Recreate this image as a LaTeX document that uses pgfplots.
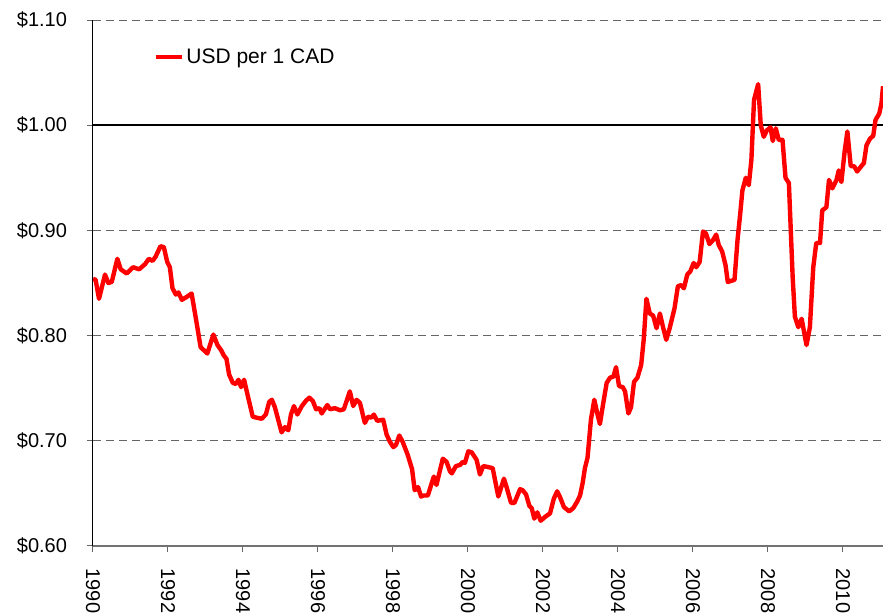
\documentclass[border=0pt]{standalone}
\usepackage{fontspec}
\setmainfont{Liberation Sans}
\usepackage{pgfplots}
\pgfplotsset{compat=1.18}

% monthly USD per 1 CAD
\pgfplotstableread{
year value
1990.00 0.854
1990.07 0.853
1990.16 0.835
1990.32 0.858
1990.41 0.850
1990.50 0.851
1990.65 0.873
1990.74 0.863
1990.90 0.859
1991.07 0.865
1991.23 0.863
1991.39 0.868
1991.49 0.873
1991.59 0.871
1991.67 0.875
1991.80 0.885
1991.89 0.884
1991.98 0.870
1992.05 0.865
1992.12 0.845
1992.21 0.839
1992.28 0.841
1992.37 0.834
1992.51 0.837
1992.63 0.840
1992.75 0.815
1992.87 0.789
1993.05 0.783
1993.21 0.801
1993.32 0.791
1993.42 0.786
1993.49 0.781
1993.56 0.778
1993.63 0.763
1993.73 0.755
1993.81 0.754
1993.88 0.758
1993.95 0.751
1994.03 0.758
1994.12 0.744
1994.26 0.723
1994.36 0.722
1994.50 0.721
1994.61 0.725
1994.70 0.737
1994.77 0.739
1994.85 0.732
1994.94 0.720
1995.03 0.708
1995.12 0.713
1995.21 0.710
1995.28 0.725
1995.36 0.733
1995.45 0.725
1995.57 0.733
1995.68 0.738
1995.77 0.741
1995.86 0.738
1995.95 0.730
1996.04 0.731
1996.10 0.726
1996.25 0.734
1996.32 0.730
1996.45 0.731
1996.59 0.729
1996.69 0.730
1996.85 0.747
1996.94 0.733
1997.03 0.739
1997.12 0.736
1997.25 0.717
1997.34 0.723
1997.43 0.722
1997.49 0.725
1997.58 0.719
1997.74 0.720
1997.83 0.706
1997.92 0.699
1998.01 0.694
1998.08 0.696
1998.17 0.705
1998.26 0.699
1998.39 0.687
1998.51 0.673
1998.58 0.653
1998.67 0.656
1998.75 0.647
1998.82 0.648
1998.93 0.648
1999.09 0.666
1999.16 0.658
1999.33 0.683
1999.43 0.680
1999.52 0.671
1999.57 0.669
1999.68 0.676
1999.79 0.677
1999.86 0.680
1999.92 0.679
2000.01 0.690
2000.10 0.689
2000.23 0.682
2000.32 0.668
2000.41 0.676
2000.54 0.675
2000.66 0.674
2000.81 0.647
2000.96 0.664
2001.03 0.656
2001.15 0.641
2001.24 0.641
2001.39 0.654
2001.46 0.653
2001.55 0.649
2001.64 0.638
2001.70 0.636
2001.77 0.626
2001.85 0.632
2001.94 0.624
2002.07 0.628
2002.19 0.631
2002.29 0.645
2002.38 0.652
2002.45 0.647
2002.56 0.637
2002.70 0.633
2002.81 0.636
2002.91 0.642
2002.99 0.648
2003.06 0.660
2003.12 0.674
2003.19 0.684
2003.28 0.720
2003.37 0.739
2003.45 0.726
2003.52 0.716
2003.61 0.736
2003.70 0.755
2003.79 0.760
2003.88 0.761
2003.95 0.770
2004.03 0.752
2004.13 0.751
2004.19 0.747
2004.28 0.726
2004.35 0.732
2004.43 0.756
2004.52 0.760
2004.62 0.772
2004.69 0.797
2004.76 0.835
2004.85 0.821
2004.94 0.819
2005.03 0.807
2005.12 0.821
2005.21 0.807
2005.29 0.796
2005.38 0.807
2005.51 0.826
2005.60 0.847
2005.69 0.848
2005.76 0.845
2005.85 0.858
2005.93 0.861
2006.02 0.869
2006.09 0.865
2006.18 0.870
2006.27 0.899
2006.35 0.897
2006.44 0.887
2006.54 0.891
2006.62 0.896
2006.69 0.886
2006.78 0.880
2006.87 0.867
2006.93 0.851
2007.02 0.852
2007.11 0.853
2007.19 0.891
2007.26 0.915
2007.32 0.938
2007.41 0.950
2007.49 0.943
2007.56 0.967
2007.63 1.024
2007.74 1.039
2007.81 1.000
2007.89 0.989
2007.97 0.995
2008.07 0.998
2008.13 0.985
2008.21 0.997
2008.29 0.986
2008.39 0.986
2008.47 0.950
2008.56 0.945
2008.66 0.856
2008.72 0.818
2008.81 0.808
2008.90 0.816
2009.03 0.791
2009.12 0.808
2009.21 0.865
2009.29 0.888
2009.39 0.888
2009.45 0.919
2009.56 0.922
2009.63 0.948
2009.72 0.940
2009.83 0.948
2009.89 0.957
2009.96 0.946
2010.05 0.976
2010.12 0.994
2010.21 0.961
2010.30 0.961
2010.38 0.956
2010.49 0.961
2010.56 0.964
2010.63 0.981
2010.72 0.987
2010.81 0.990
2010.87 1.005
2010.97 1.011
2011.03 1.021
2011.07 1.037
}\cadusd

\begin{document}
\begin{tikzpicture}
\begin{axis}[
  scale only axis,
  width=592.5pt, height=394.5pt,
  xmin=1990, xmax=2011.07,
  ymin=0.6, ymax=1.1,
  enlargelimits=false,
  axis lines=left,
  axis line style={-},
  x axis line style={draw=black!55, line width=1pt},
  y axis line style={draw=black, line width=0.75pt},
  tick align=outside,
  major tick length=4.5pt,
  tick style={black!60, line width=0.75pt},
  xtick={1990,1992,...,2010},
  xticklabels={1990,1992,1994,1996,1998,2000,2002,2004,2006,2008,2010},
  ytick={0.6,0.7,0.8,0.9,1.0,1.1},
  yticklabels={\$0.60,\$0.70,\$0.80,\$0.90,\$1.00,\$1.10},
  ticklabel style={font=\fontsize{15}{18}\selectfont},
  xticklabel style={rotate=-90, anchor=west, xshift=9pt},
  yticklabel style={xshift=-11.5pt},
  ymajorgrids,
  grid style={black!60, line width=0.75pt, dash pattern=on 6pt off 3.75pt},
  legend style={draw=none, fill=none, at={(0.076,0.93)}, anchor=west,
    inner sep=0pt, font=\fontsize{15.75}{18}\selectfont},
  legend image code/.code={\draw[#1] (0pt,0pt) -- (19.5pt,0pt);},
]
\addplot[black, line width=1.5pt, forget plot] coordinates {(1990,1.0) (2011.07,1.0)};
\addplot[red, line width=3.3pt, line join=round] table[x=year, y=value] {\cadusd};
\addlegendentry{USD per 1 CAD}
\end{axis}
\pgfresetboundingbox
\path[use as bounding box] (-69.75pt,-50.25pt) rectangle (592.5pt,409.5pt);
\end{tikzpicture}
\end{document}
